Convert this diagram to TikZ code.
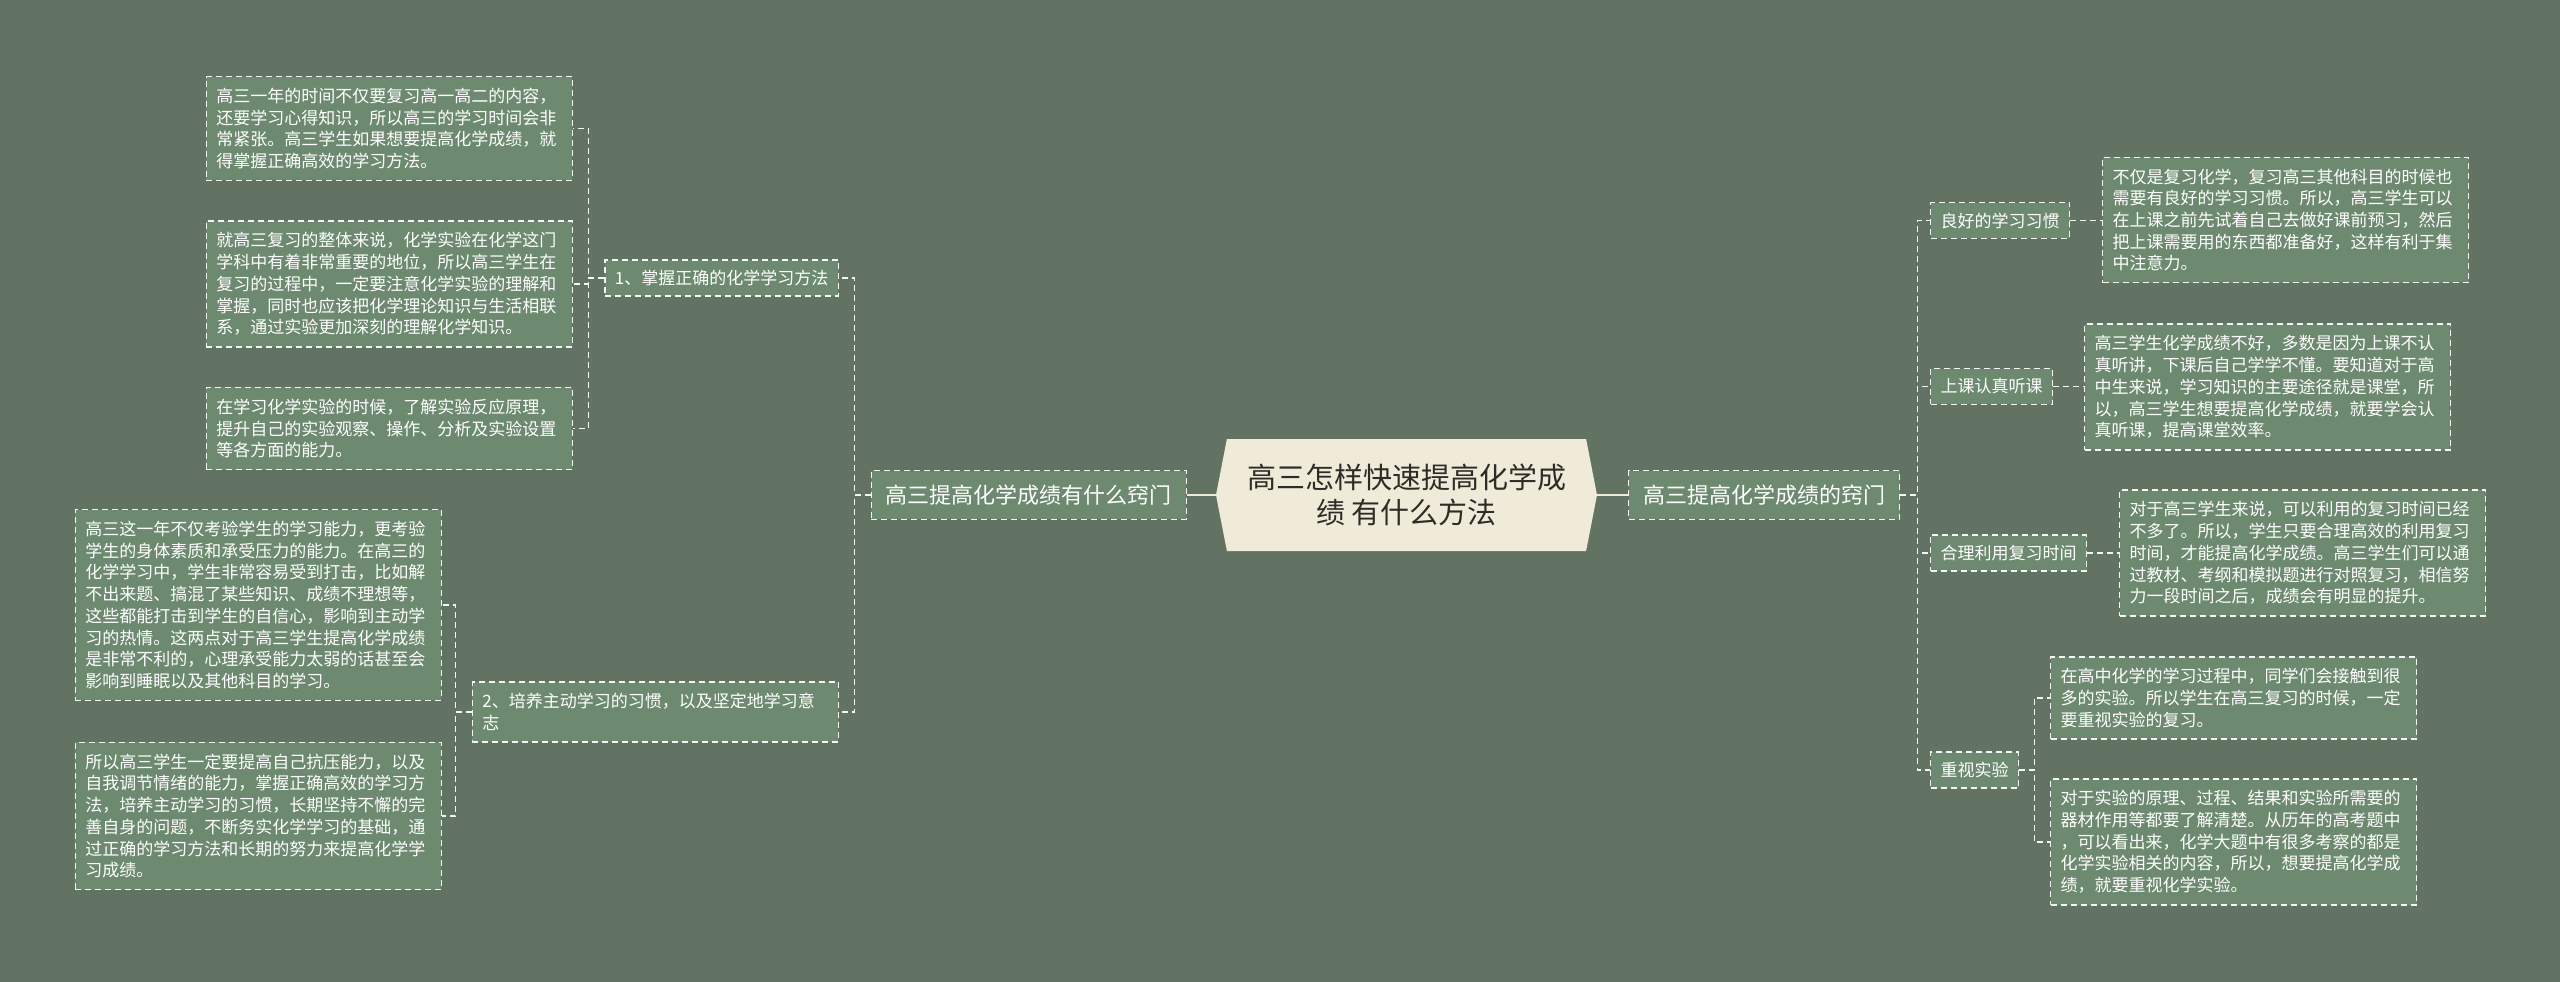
\documentclass[tikz,border=0pt]{standalone}
\usepackage{fontspec}
\setmainfont{Noto Sans CJK SC}
\usetikzlibrary{shapes.symbols}
\definecolor{canvas}{RGB}{98,115,99}
\definecolor{boxfill}{RGB}{109,138,112}
\definecolor{cream}{RGB}{240,234,216}
\definecolor{ink}{RGB}{45,45,40}
\tikzset{
  dashframe/.style={draw=white!92!boxfill, line width=1.3pt, dash pattern=on 6pt off 4pt, fill=boxfill, text=white},
  notebox/.style={dashframe, text width=346pt, align=left, inner xsep=10pt, inner ysep=11.5pt, font=\fontsize{17pt}{21.7pt}\selectfont},
  tipbox/.style={dashframe, inner xsep=10pt, inner ysep=10pt, font=\fontsize{17pt}{21.7pt}\selectfont},
  mainbox/.style={dashframe, inner xsep=14.5pt, inner ysep=14pt, font=\fontsize{22pt}{26pt}\selectfont},
  rootbox/.style={signal, signal to=west and east, signal pointer angle=158, fill=cream, text=ink, align=center, minimum width=381pt, minimum height=112pt, font=\fontsize{29pt}{35pt}\selectfont},
  link/.style={draw=white!92!boxfill, line width=1.3pt, dash pattern=on 6pt off 4pt},
  trunk/.style={draw=cream, line width=2.5pt}
}
\begin{document}
\begin{tikzpicture}[x=1pt, y=-1pt]
\fill[canvas] (0,0) rectangle (2560,982);
\useasboundingbox (0,0) rectangle (2560,982);

% centre
\node[rootbox] (root) at (1406.5,495) {高三怎样快速提高化学成\\绩 有什么方法};

% left half
\node[mainbox, anchor=east] (secretL) at (1187,495) {高三提高化学成绩有什么窍门};
\node[tipbox, anchor=east] (method) at (839,278) {1、掌握正确的化学学习方法};
\node[notebox, align=left, anchor=east] (habit) at (839,712) {2、培养主动学习的习惯，以及坚定地学习意\\志};

\node[notebox, anchor=east] (methodA) at (573,128.5) {高三一年的时间不仅要复习高一高二的内容，\\还要学习心得知识，所以高三的学习时间会非\\常紧张。高三学生如果想要提高化学成绩，就\\得掌握正确高效的学习方法。};
\node[notebox, anchor=east] (methodB) at (573,284) {就高三复习的整体来说，化学实验在化学这门\\学科中有着非常重要的地位，所以高三学生在\\复习的过程中，一定要注意化学实验的理解和\\掌握，同时也应该把化学理论知识与生活相联\\系，通过实验更加深刻的理解化学知识。};
\node[notebox, anchor=east] (methodC) at (573,428.5) {在学习化学实验的时候，了解实验反应原理，\\提升自己的实验观察、操作、分析及实验设置\\等各方面的能力。};

\node[notebox, anchor=east] (habitA) at (442,605) {高三这一年不仅考验学生的学习能力，更考验\\学生的身体素质和承受压力的能力。在高三的\\化学学习中，学生非常容易受到打击，比如解\\不出来题、搞混了某些知识、成绩不理想等，\\这些都能打击到学生的自信心，影响到主动学\\习的热情。这两点对于高三学生提高化学成绩\\是非常不利的，心理承受能力太弱的话甚至会\\影响到睡眠以及其他科目的学习。};
\node[notebox, anchor=east] (habitB) at (442,816) {所以高三学生一定要提高自己抗压能力，以及\\自我调节情绪的能力，掌握正确高效的学习方\\法，培养主动学习的习惯，长期坚持不懈的完\\善自身的问题，不断务实化学学习的基础，通\\过正确的学习方法和长期的努力来提高化学学\\习成绩。};

% right half
\node[mainbox, anchor=west] (secretR) at (1628,495) {高三提高化学成绩的窍门};
\node[tipbox, anchor=west] (goodhabit) at (1930,220.5) {良好的学习习惯};
\node[tipbox, anchor=west] (listen) at (1930,386.5) {上课认真听课};
\node[tipbox, anchor=west] (schedule) at (1930,553) {合理利用复习时间};
\node[tipbox, anchor=west] (lab) at (1930,770) {重视实验};

\node[notebox, anchor=west] (goodhabitA) at (2102,220) {不仅是复习化学，复习高三其他科目的时候也\\需要有良好的学习习惯。所以，高三学生可以\\在上课之前先试着自己去做好课前预习，然后\\把上课需要用的东西都准备好，这样有利于集\\中注意力。};
\node[notebox, anchor=west] (listenA) at (2084,387) {高三学生化学成绩不好，多数是因为上课不认\\真听讲，下课后自己学学不懂。要知道对于高\\中生来说，学习知识的主要途径就是课堂，所\\以，高三学生想要提高化学成绩，就要学会认\\真听课，提高课堂效率。};
\node[notebox, anchor=west] (scheduleA) at (2119,553) {对于高三学生来说，可以利用的复习时间已经\\不多了。所以，学生只要合理高效的利用复习\\时间，才能提高化学成绩。高三学生们可以通\\过教材、考纲和模拟题进行对照复习，相信努\\力一段时间之后，成绩会有明显的提升。};
\node[notebox, anchor=west] (labA) at (2050,698) {在高中化学的学习过程中，同学们会接触到很\\多的实验。所以学生在高三复习的时候，一定\\要重视实验的复习。};
\node[notebox, anchor=west] (labB) at (2050,842) {对于实验的原理、过程、结果和实验所需要的\\器材作用等都要了解清楚。从历年的高考题中\\，可以看出来，化学大题中有很多考察的都是\\化学实验相关的内容，所以，想要提高化学成\\绩，就要重视化学实验。};

% connectors
\draw[trunk] (root.west) -- (secretL.east);
\draw[trunk] (root.east) -- (secretR.west);
\foreach \n in {method,habit}
  \draw[link] (secretL.west) -- ++(-16,0) |- (\n.east);
\foreach \n in {methodA,methodB,methodC}
  \draw[link] (method.west) -- ++(-16,0) |- (\n.east);
\foreach \n in {habitA,habitB}
  \draw[link] (habit.west) -- ++(-16,0) |- (\n.east);
\foreach \n in {goodhabit,listen,schedule,lab}
  \draw[link] (secretR.east) -- ++(17,0) |- (\n.west);
\draw[link] (goodhabit.east) -- (goodhabitA.west |- goodhabit.east);
\draw[link] (listen.east) -- (listenA.west |- listen.east);
\draw[link] (schedule.east) -- (scheduleA.west |- schedule.east);
\foreach \n in {labA,labB}
  \draw[link] (lab.east) -- ++(15,0) |- (\n.west);
\end{tikzpicture}
\end{document}
